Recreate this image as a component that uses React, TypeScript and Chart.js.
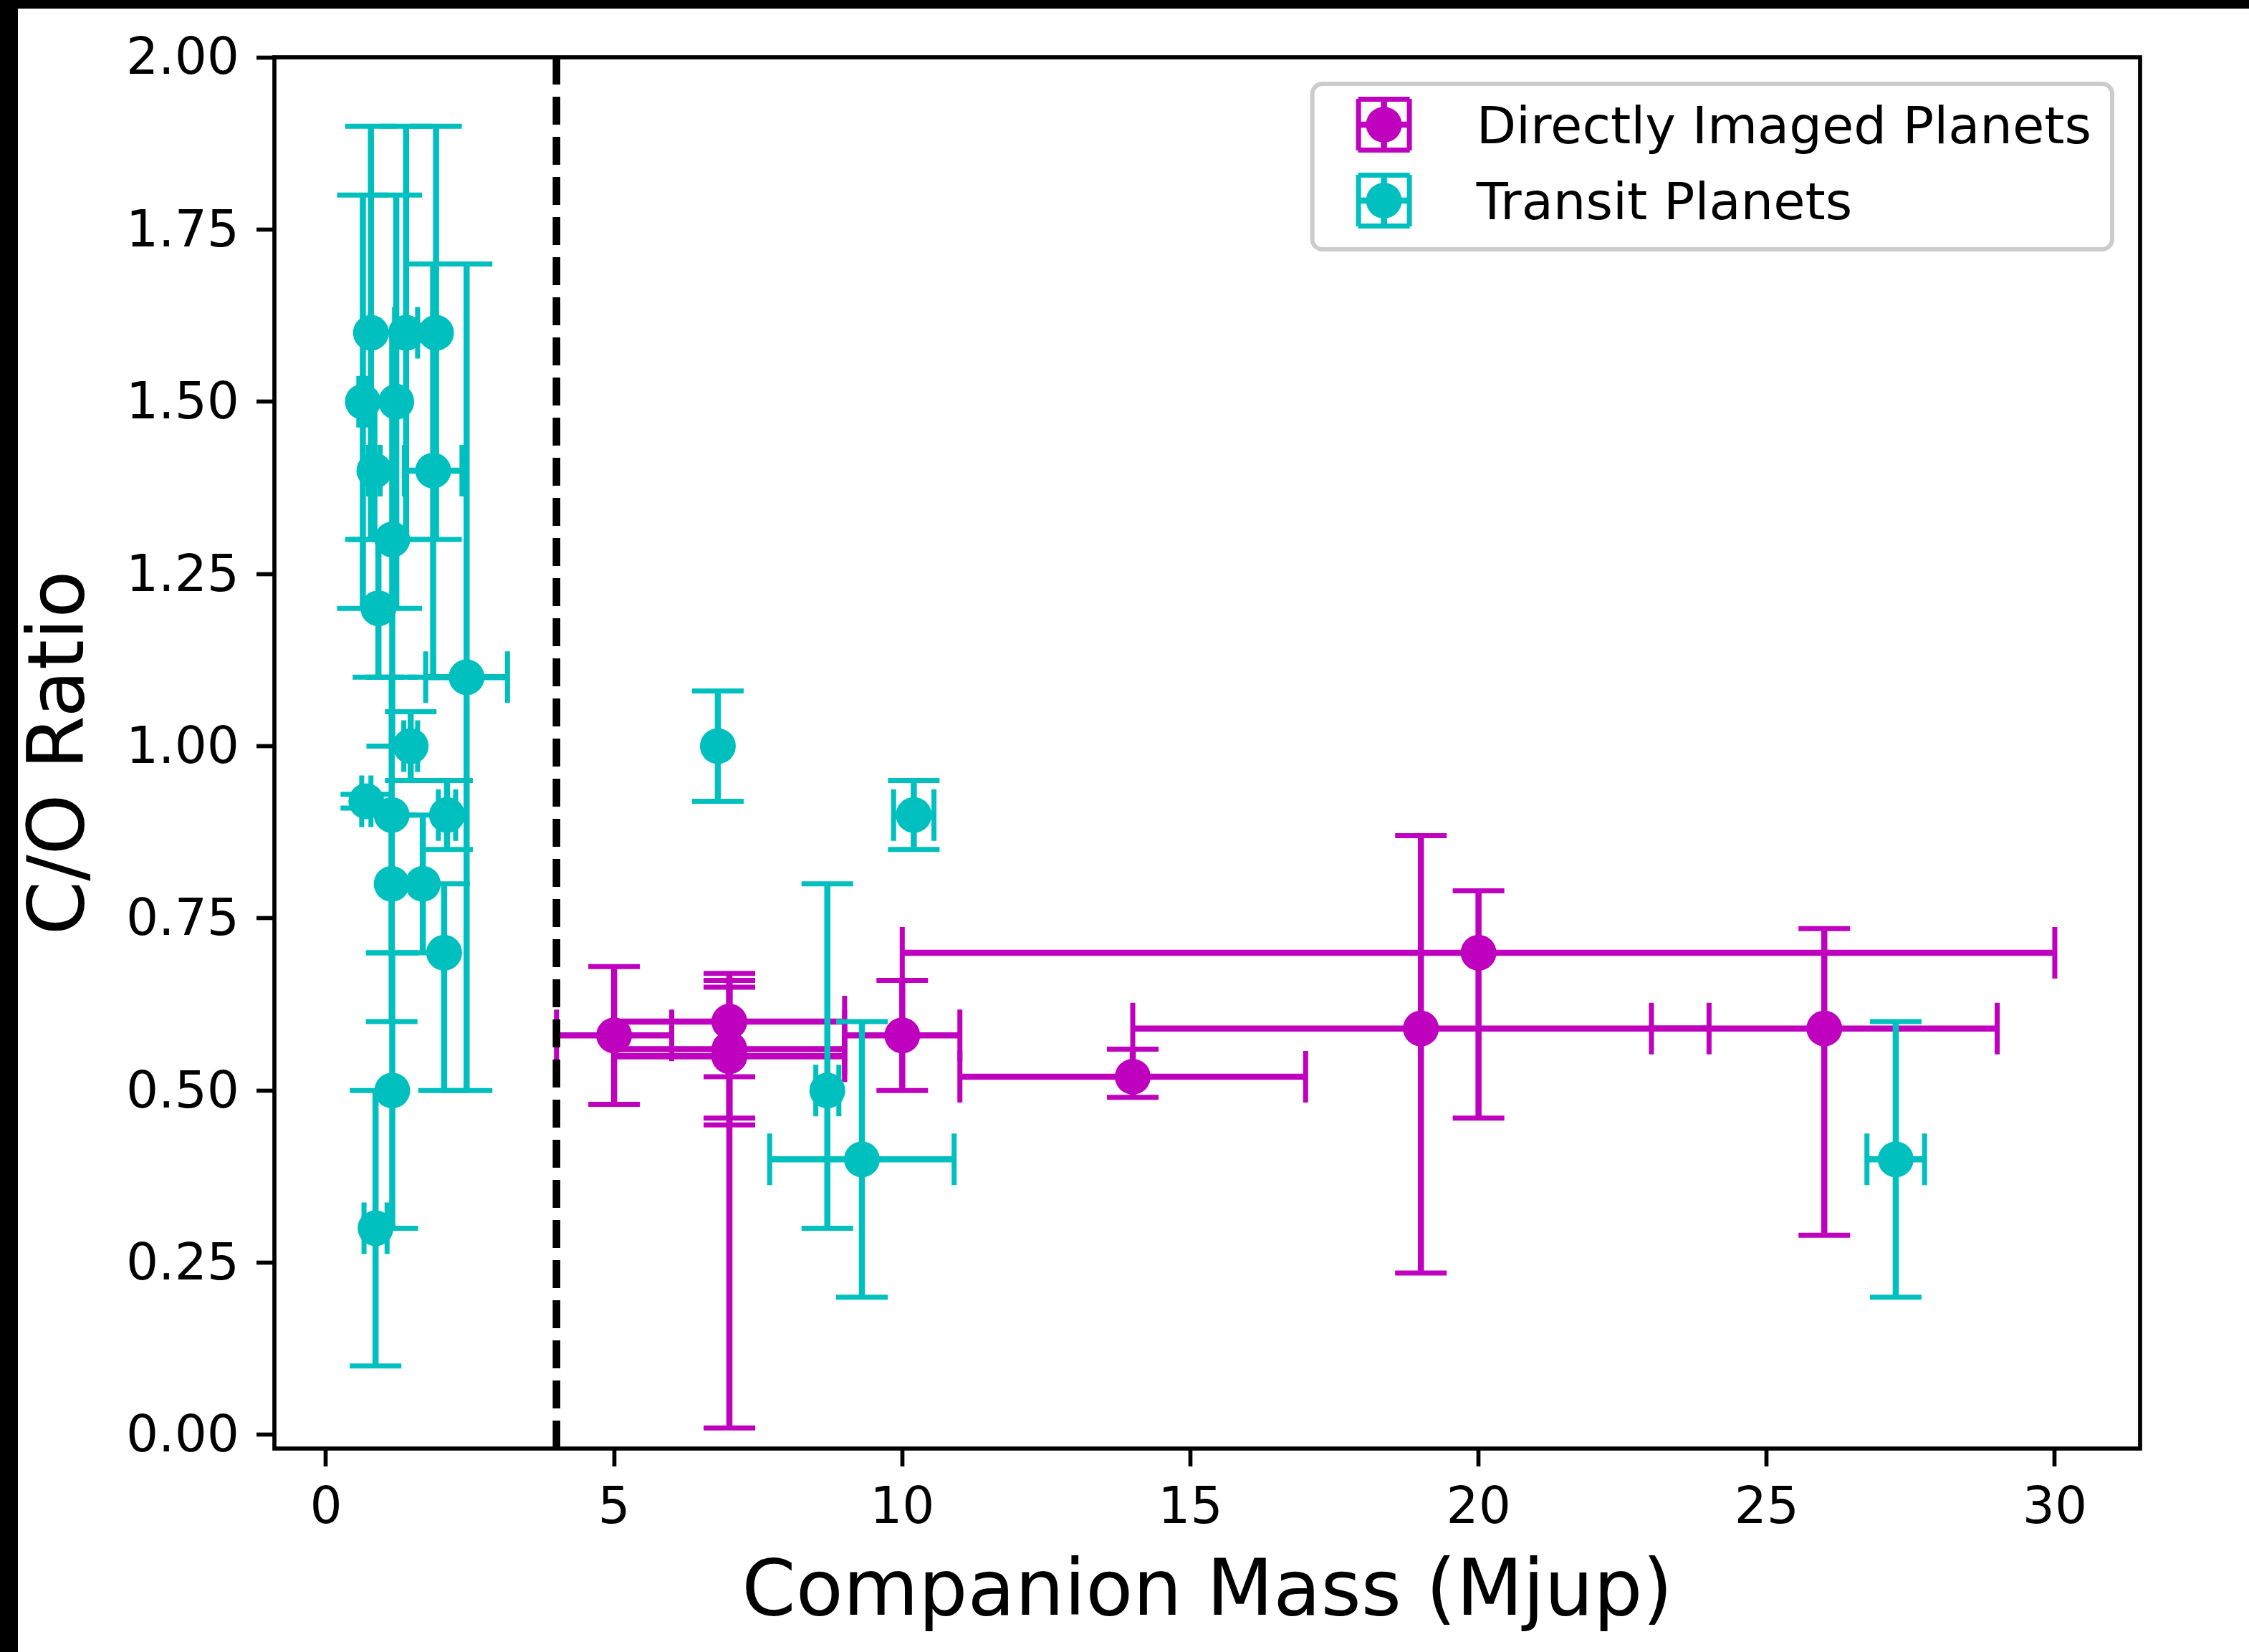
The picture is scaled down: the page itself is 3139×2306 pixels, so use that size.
import React, { useEffect, useRef } from "react";
import { Chart, registerables } from "chart.js";

Chart.register(...registerables);

// ---- Directly imaged planets ----
const directMass = [5, 7, 7, 7, 7, 10, 14, 19, 20, 26];
const directMassErr = [1, 2, 2, 2, 2, 1, 3, 5, 10, 3];
const directCO = [0.58, 0.6, 0.56, 0.55, 0.55, 0.58, 0.52, 0.59, 0.7, 0.59];
const directCOErrLow = [0.1, 0.08, 0.55, 0.09, 0.1, 0.08, 0.03, 0.355, 0.24, 0.3];
const directCOErrHigh = [0.1, 0.06, 0.11, 0.1, 0.11, 0.08, 0.04, 0.28, 0.09, 0.145];

// ---- Transit planets ----
const transitMass = [0.78, 1.39, 1.91, 0.64, 1.22, 0.84, 1.86, 1.15, 0.91, 2.44, 1.47, 0.7, 1.14, 2.1, 1.14, 1.68, 2.05, 1.15, 0.86, 6.8, 10.2, 8.7, 9.3, 27.24];
const transitMassErr = [0, 0.2, 0, 0.07, 0, 0.1, 0.5, 0, 0, 0.71, 0.12, 0.08, 0, 0.15, 0, 0, 0, 0, 0.2, 0, 0.35, 0.2, 1.6, 0.5];
const transitCO = [1.6, 1.6, 1.6, 1.5, 1.5, 1.4, 1.4, 1.3, 1.2, 1.1, 1.0, 0.92, 0.9, 0.9, 0.8, 0.8, 0.7, 0.5, 0.3, 1.0, 0.9, 0.5, 0.4, 0.4];
const transitCOErrLow = [0.3, 0.3, 0.3, 0.3, 0.3, 0.1, 0.3, 0.3, 0.1, 0.6, 0.05, 0.01, 0.2, 0.05, 0.2, 0.1, 0.2, 0.2, 0.2, 0.08, 0.05, 0.2, 0.2, 0.2];
const transitCOErrHigh = [0.3, 0.3, 0.3, 0.3, 0.3, 0.1, 0.3, 0.3, 0.1, 0.6, 0.05, 0.01, 0.2, 0.05, 0.1, 0.1, 0.1, 0.2, 0.2, 0.08, 0.05, 0.3, 0.2, 0.2];

// ---- Axes ----
const xTicks = [0, 5, 10, 15, 20, 25, 30];
const yTicks = [0, 0.25, 0.5, 0.75, 1.0, 1.25, 1.5, 1.75, 2.0];
const xMin = -0.895;
const xMax = 31.48;
const yMin = -0.0198;
const yMax = 2.0;
const dividerMass = 4;

const seriesLabels = ["Directly Imaged Planets", "Transit Planets"];
const MAGENTA = "#bf00bf";
const CYAN = "#00bfbf";

const BAR_W = 8.5;
const CAP_W = 7;
const CAP = 36;
const FONT = "'DejaVu Sans'";

type Series = { x: number[]; xe: number[]; y: number[]; lo: number[]; hi: number[]; color: string };

const SERIES: Series[] = [
  { x: directMass, xe: directMassErr, y: directCO, lo: directCOErrLow, hi: directCOErrHigh, color: MAGENTA },
  { x: transitMass, xe: transitMassErr, y: transitCO, lo: transitCOErrLow, hi: transitCOErrHigh, color: CYAN },
];

function drawErrors(ctx: CanvasRenderingContext2D, xs: any, ys: any, s: Series) {
  ctx.strokeStyle = s.color;
  ctx.lineCap = "butt";
  for (let i = 0; i < s.x.length; i++) {
    const px = xs.getPixelForValue(s.x[i]);
    const py = ys.getPixelForValue(s.y[i]);
    if (s.xe[i] > 0) {
      const x0 = xs.getPixelForValue(s.x[i] - s.xe[i]);
      const x1 = xs.getPixelForValue(s.x[i] + s.xe[i]);
      ctx.lineWidth = BAR_W;
      ctx.beginPath();
      ctx.moveTo(x0, py);
      ctx.lineTo(x1, py);
      ctx.stroke();
      ctx.lineWidth = CAP_W;
      ctx.beginPath();
      ctx.moveTo(x0, py - CAP);
      ctx.lineTo(x0, py + CAP);
      ctx.moveTo(x1, py - CAP);
      ctx.lineTo(x1, py + CAP);
      ctx.stroke();
    }
    if (s.lo[i] > 0 || s.hi[i] > 0) {
      const y0 = ys.getPixelForValue(s.y[i] - s.lo[i]);
      const y1 = ys.getPixelForValue(s.y[i] + s.hi[i]);
      ctx.lineWidth = BAR_W;
      ctx.beginPath();
      ctx.moveTo(px, y0);
      ctx.lineTo(px, y1);
      ctx.stroke();
      ctx.lineWidth = CAP_W;
      ctx.beginPath();
      ctx.moveTo(px - CAP, y0);
      ctx.lineTo(px + CAP, y0);
      ctx.moveTo(px - CAP, y1);
      ctx.lineTo(px + CAP, y1);
      ctx.stroke();
    }
  }
}

function roundRect(ctx: CanvasRenderingContext2D, x: number, y: number, w: number, h: number, r: number) {
  ctx.beginPath();
  ctx.moveTo(x + r, y);
  ctx.lineTo(x + w - r, y);
  ctx.arcTo(x + w, y, x + w, y + r, r);
  ctx.lineTo(x + w, y + h - r);
  ctx.arcTo(x + w, y + h, x + w - r, y + h, r);
  ctx.lineTo(x + r, y + h);
  ctx.arcTo(x, y + h, x, y + h - r, r);
  ctx.lineTo(x, y + r);
  ctx.arcTo(x, y, x + r, y, r);
  ctx.closePath();
}

function drawHandle(ctx: CanvasRenderingContext2D, cx: number, cy: number, color: string) {
  const h = 35.5;
  ctx.strokeStyle = color;
  ctx.lineWidth = BAR_W;
  ctx.beginPath();
  ctx.moveTo(cx - h, cy);
  ctx.lineTo(cx + h, cy);
  ctx.moveTo(cx, cy - h);
  ctx.lineTo(cx, cy + h);
  ctx.stroke();
  ctx.lineWidth = CAP_W;
  ctx.beginPath();
  ctx.moveTo(cx - h, cy - CAP);
  ctx.lineTo(cx - h, cy + CAP);
  ctx.moveTo(cx + h, cy - CAP);
  ctx.lineTo(cx + h, cy + CAP);
  ctx.moveTo(cx - CAP, cy - h);
  ctx.lineTo(cx + CAP, cy - h);
  ctx.moveTo(cx - CAP, cy + h);
  ctx.lineTo(cx + CAP, cy + h);
  ctx.stroke();
  ctx.fillStyle = color;
  ctx.beginPath();
  ctx.arc(cx, cy, 25, 0, Math.PI * 2);
  ctx.fill();
}

const customPlugin = {
  id: "customDraw",
  beforeDatasetsDraw(chart: any) {
    const { ctx, chartArea: a } = chart;
    const xs = chart.scales.x;
    const ys = chart.scales.y;
    ctx.save();
    ctx.beginPath();
    ctx.rect(a.left, a.top, a.right - a.left, a.bottom - a.top);
    ctx.clip();
    for (const s of SERIES) drawErrors(ctx, xs, ys, s);
    ctx.restore();
  },
  afterDatasetsDraw(chart: any) {
    const { ctx, chartArea: a } = chart;
    const xs = chart.scales.x;
    // dashed divider
    ctx.save();
    const dx = xs.getPixelForValue(dividerMass);
    ctx.strokeStyle = "#000";
    ctx.lineWidth = 10.6;
    ctx.setLineDash([39, 17]);
    ctx.lineCap = "butt";
    ctx.beginPath();
    ctx.moveTo(dx, a.bottom);
    ctx.lineTo(dx, a.top);
    ctx.stroke();
    ctx.setLineDash([]);
    // frame
    ctx.lineWidth = 5.7;
    ctx.lineJoin = "miter";
    ctx.strokeRect(a.left, a.top, a.right - a.left, a.bottom - a.top);
    // legend
    ctx.font = `72px ${FONT}`;
    const tw = Math.max(...seriesLabels.map((t) => ctx.measureText(t).width));
    const pad = 29;
    const handleLen = 142;
    const textPad = 58;
    const w = pad + handleLen + textPad + tw + pad;
    const h = 231;
    const right = a.right - 39;
    const left = right - w;
    const top = a.top + 37;
    roundRect(ctx, left, top, w, h, 14);
    ctx.fillStyle = "rgba(255,255,255,0.8)";
    ctx.fill();
    ctx.strokeStyle = "#cccccc";
    ctx.lineWidth = 6;
    ctx.stroke();
    const rows = [top + 57, top + 163];
    const colors = [MAGENTA, CYAN];
    for (let i = 0; i < 2; i++) {
      drawHandle(ctx, left + pad + handleLen / 2, rows[i], colors[i]);
      ctx.fillStyle = "#000";
      ctx.textAlign = "left";
      ctx.textBaseline = "alphabetic";
      ctx.fillText(seriesLabels[i], left + pad + handleLen + textPad, rows[i] + 26);
    }
    ctx.restore();
  },
};

export default function App() {
  const ref = useRef<HTMLCanvasElement>(null);
  useEffect(() => {
    document.body.style.margin = "0";
    const canvas = ref.current!;
    Chart.defaults.font.family = FONT;
    Chart.defaults.color = "#000";
    const chart = new Chart(canvas, {
      type: "scatter",
      data: {
        datasets: [
          {
            label: seriesLabels[0],
            data: directMass.map((m, i) => ({ x: m, y: directCO[i] })),
            backgroundColor: MAGENTA,
            borderColor: MAGENTA,
            pointRadius: 25,
            pointHoverRadius: 25,
            pointBorderWidth: 0,
            order: 2,
          },
          {
            label: seriesLabels[1],
            data: transitMass.map((m, i) => ({ x: m, y: transitCO[i] })),
            backgroundColor: CYAN,
            borderColor: CYAN,
            pointRadius: 25,
            pointHoverRadius: 25,
            pointBorderWidth: 0,
            order: 1,
          },
        ],
      },
      options: {
        animation: false,
        responsive: false,
        devicePixelRatio: 1,
        events: [],
        layout: { padding: { left: 0, right: 152, top: 68, bottom: 0 } },
        plugins: { legend: { display: false }, tooltip: { enabled: false } },
        scales: {
          x: {
            type: "linear",
            min: xMin,
            max: xMax,
            afterBuildTicks: (s: any) => {
              s.ticks = xTicks.map((v) => ({ value: v }));
            },
            afterFit: (s: any) => {
              s.height = 284;
            },
            grid: { display: true, drawOnChartArea: false, drawTicks: true, tickLength: 25, tickWidth: 5.7, tickColor: "#000" },
            border: { display: false },
            ticks: { font: { size: 71 }, color: "#000", padding: 18, maxRotation: 0, autoSkip: false, callback: (v: any) => String(v) },
            title: { display: true, text: "Companion Mass (Mjup)", color: "#000", font: { size: 108, lineHeight: 1 }, padding: { top: 0, bottom: 26 } },
          },
          y: {
            type: "linear",
            min: yMin,
            max: yMax,
            afterBuildTicks: (s: any) => {
              s.ticks = yTicks.map((v) => ({ value: v }));
            },
            afterFit: (s: any) => {
              s.width = 358;
            },
            grid: { display: true, drawOnChartArea: false, drawTicks: true, tickLength: 25, tickWidth: 5.7, tickColor: "#000" },
            border: { display: false },
            ticks: { font: { size: 71 }, color: "#000", padding: 24, labelOffset: 5, autoSkip: false, callback: (v: any) => Number(v).toFixed(2) },
            title: { display: true, text: "C/O Ratio", color: "#000", font: { size: 108, lineHeight: 1 }, padding: { top: 9, bottom: 0 } },
          },
        },
      } as any,
      plugins: [customPlugin],
    });
    return () => chart.destroy();
  }, []);
  return (
    <div style={{ position: "relative", width: 3139, height: 2306, background: "#000", overflow: "hidden" }}>
      <canvas
        ref={ref}
        width={3114}
        height={2294}
        style={{ position: "absolute", left: 25, top: 12, width: 3114, height: 2294, background: "#fff" }}
      />
    </div>
  );
}
